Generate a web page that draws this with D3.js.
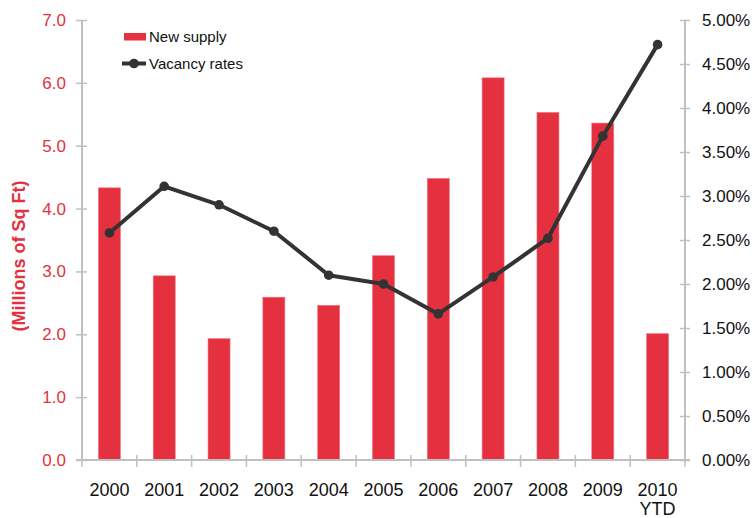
<!DOCTYPE html>
<html>
<head>
<meta charset="utf-8">
<script src="https://cdn.jsdelivr.net/npm/d3@7/dist/d3.min.js"></script>
<style>
  html, body { margin: 0; padding: 0; background: #fff; }
  svg { display: block; font-family: "Liberation Sans", Arial, sans-serif; }
</style>
</head>
<body>
<svg id="chart" width="755" height="518"></svg>
<script>
const years = ["2000","2001","2002","2003","2004","2005","2006","2007","2008","2009","2010"];
const yearLabels = [["2000"],["2001"],["2002"],["2003"],["2004"],["2005"],["2006"],["2007"],["2008"],["2009"],["2010","YTD"]];
const newSupply = [4.33, 2.93, 1.93, 2.59, 2.46, 3.25, 4.48, 6.08, 5.53, 5.36, 2.01];
const vacancyRates = [2.58, 3.11, 2.90, 2.60, 2.10, 2.00, 1.66, 2.08, 2.52, 3.68, 4.72];
const leftTicks = [0, 1, 2, 3, 4, 5, 6, 7];
const rightTicks = [0, 0.5, 1, 1.5, 2, 2.5, 3, 3.5, 4, 4.5, 5];

const RED = "#e4303f";
const DARK = "#333333";
const GRAY = "#c0c0c0";

const svg = d3.select("#chart");
const pLeft = 82, pRight = 685, pTop = 20, pBottom = 460;

const xb = d3.scaleBand().domain(years).range([pLeft, pRight]);
const yL = d3.scaleLinear().domain([0, 7]).range([pBottom, pTop]);
const yR = d3.scaleLinear().domain([0, 5]).range([pBottom, pTop]);

// bars
svg.append("g").selectAll("rect").data(years).join("rect")
  .attr("x", d => xb(d) + xb.bandwidth()/2 - 11)
  .attr("width", 22)
  .attr("y", (d,i) => yL(newSupply[i]))
  .attr("height", (d,i) => pBottom - yL(newSupply[i]))
  .attr("fill", RED)
  .attr("stroke", "#ee7580").attr("stroke-width", 0.6);

// left axis
const gL = svg.append("g").attr("transform", `translate(${pLeft},0)`)
  .call(d3.axisLeft(yL).tickValues(leftTicks).tickFormat(d3.format(".1f")).tickSize(6).tickPadding(10));
gL.select(".domain").attr("stroke", GRAY).attr("stroke-width", 2).attr("d", `M0,${pTop}V${pBottom}`);
gL.selectAll(".tick line").attr("stroke", GRAY).attr("stroke-width", 1.5).attr("x1", 5).attr("x2", -6);
gL.selectAll(".tick text").attr("fill", RED).attr("font-size", 17).attr("font-family", "Liberation Sans, Arial, sans-serif");

// right axis
const gR = svg.append("g").attr("transform", `translate(${pRight},0)`)
  .call(d3.axisRight(yR).tickValues(rightTicks).tickFormat(d => d3.format(".2f")(d) + "%").tickSize(5).tickPadding(12));
gR.select(".domain").attr("stroke", GRAY).attr("stroke-width", 2).attr("d", `M0,${pTop}V${pBottom}`);
gR.selectAll(".tick line").attr("stroke", GRAY).attr("stroke-width", 1.5).attr("x1", -5).attr("x2", 5);
gR.selectAll(".tick text").attr("fill", "#111").attr("font-size", 17).attr("font-family", "Liberation Sans, Arial, sans-serif");

// x axis
const gX = svg.append("g").attr("transform", `translate(0,${pBottom})`);
gX.append("line").attr("x1", pLeft - 6).attr("x2", pRight + 5).attr("y1", 0).attr("y2", 0)
  .attr("stroke", GRAY).attr("stroke-width", 2);
const boundaries = years.map(d => xb(d)).concat([pRight]);
gX.selectAll("line.tk").data(boundaries).join("line").attr("class", "tk")
  .attr("x1", d => d).attr("x2", d => d).attr("y1", -5).attr("y2", 7)
  .attr("stroke", GRAY).attr("stroke-width", 1.5);
const lbl = gX.selectAll("text").data(years).join("text")
  .attr("x", d => xb(d) + xb.bandwidth()/2)
  .attr("y", 36)
  .attr("text-anchor", "middle")
  .attr("font-size", 18)
  .attr("fill", "#111");
lbl.selectAll("tspan").data((d,i) => yearLabels[i]).join("tspan")
  .attr("x", function() { return d3.select(this.parentNode).attr("x"); })
  .attr("dy", (d,i) => i === 0 ? 0 : 19)
  .text(d => d);

// y title
svg.append("text")
  .attr("transform", "translate(25,256) rotate(-90)")
  .attr("text-anchor", "middle")
  .attr("font-size", 18).attr("font-weight", "bold")
  .attr("fill", RED)
  .text("(Millions of Sq Ft)");

// line
const line = d3.line().x((d,i) => xb(years[i]) + xb.bandwidth()/2).y(d => yR(d));
svg.append("path").datum(vacancyRates).attr("d", line)
  .attr("fill", "none").attr("stroke", DARK).attr("stroke-width", 4).attr("stroke-linejoin", "round");
svg.append("g").selectAll("circle").data(vacancyRates).join("circle")
  .attr("cx", (d,i) => xb(years[i]) + xb.bandwidth()/2)
  .attr("cy", d => yR(d))
  .attr("r", 4.8).attr("fill", DARK);

// legend
const lg = svg.append("g");
lg.append("rect").attr("x", 124).attr("y", 33).attr("width", 22).attr("height", 7.5).attr("fill", RED);
lg.append("text").attr("x", 149).attr("y", 42).attr("font-size", 15).attr("fill", "#111").text("New supply");
lg.append("line").attr("x1", 122).attr("x2", 146).attr("y1", 63.5).attr("y2", 63.5)
  .attr("stroke", DARK).attr("stroke-width", 4);
lg.append("circle").attr("cx", 134).attr("cy", 63.5).attr("r", 4.8).attr("fill", DARK);
lg.append("text").attr("x", 149).attr("y", 69).attr("font-size", 15).attr("fill", "#111").text("Vacancy rates");
</script>
</body>
</html>
